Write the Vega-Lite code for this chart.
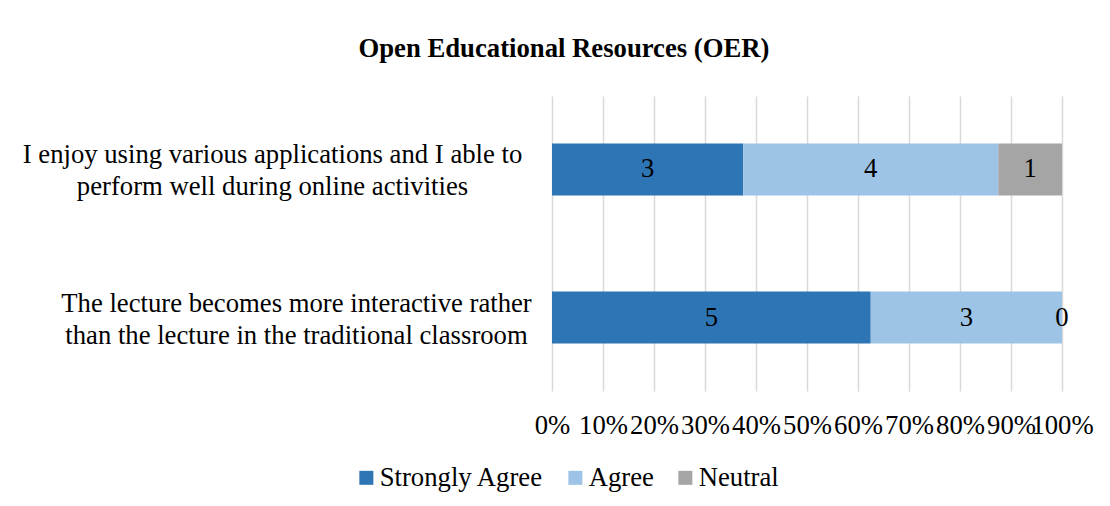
{
  "$schema": "https://vega.github.io/schema/vega-lite/v6.json",
  "width": 510,
  "height": 295,
  "autosize": {"type": "none"},
  "padding": {"left": 552, "top": 96, "right": 48, "bottom": 115},
  "background": "white",
  "config": {"view": {"stroke": null}},
  "title": {
    "text": "Open Educational Resources (OER)",
    "font": "Liberation Serif",
    "fontSize": 26.7,
    "fontWeight": "bold",
    "color": "black",
    "anchor": "middle",
    "baseline": "alphabetic",
    "dx": -243,
    "offset": 12
  },
  "data": {
    "values": [
      {"question": "I enjoy using various applications and I able to|perform well during online activities", "response": "Strongly Agree", "rank": 1, "count": 3},
      {"question": "I enjoy using various applications and I able to|perform well during online activities", "response": "Agree", "rank": 2, "count": 4},
      {"question": "I enjoy using various applications and I able to|perform well during online activities", "response": "Neutral", "rank": 3, "count": 1},
      {"question": "The lecture becomes more interactive rather|than the lecture in the traditional classroom", "response": "Strongly Agree", "rank": 1, "count": 5},
      {"question": "The lecture becomes more interactive rather|than the lecture in the traditional classroom", "response": "Agree", "rank": 2, "count": 3},
      {"question": "The lecture becomes more interactive rather|than the lecture in the traditional classroom", "response": "Neutral", "rank": 3, "count": 0}
    ]
  },
  "encoding": {
    "y": {
      "field": "question",
      "type": "nominal",
      "sort": null,
      "scale": {"paddingInner": 0.649, "paddingOuter": 0.321},
      "axis": {
        "title": null,
        "labelExpr": "split(datum.value, '|')",
        "labelFont": "Liberation Serif",
        "labelFontSize": 26.7,
        "labelColor": "black",
        "labelAlign": "center",
        "labelBaseline": "middle",
        "labelLineHeight": 32,
        "labelOffset": -14,
        "labelPadding": {"condition": {"test": "indexof(datum.value, 'enjoy') >= 0", "value": 280}, "value": 256},
        "labelLimit": 0,
        "ticks": false,
        "domain": false,
        "grid": false
      }
    },
    "x": {
      "field": "count",
      "type": "quantitative",
      "stack": "normalize",
      "scale": {"domain": [0, 1]},
      "axis": {
        "title": null,
        "format": ".0%",
        "values": [0, 0.1, 0.2, 0.3, 0.4, 0.5, 0.6, 0.7, 0.8, 0.9, 1],
        "labelFont": "Liberation Serif",
        "labelFontSize": 26.7,
        "labelColor": "black",
        "labelFlush": false,
        "labelOverlap": false,
        "labelPadding": 21,
        "labelBaseline": "top",
        "ticks": false,
        "domain": false,
        "grid": true,
        "gridColor": "#D9D9D9",
        "gridWidth": 1.5
      }
    },
    "order": {"field": "rank", "type": "quantitative"}
  },
  "layer": [
    {
      "mark": {"type": "bar"},
      "encoding": {
        "color": {
          "field": "response",
          "type": "nominal",
          "scale": {"domain": ["Strongly Agree", "Agree", "Neutral"], "range": ["#2E75B6", "#9DC3E6", "#A5A5A5"]},
          "legend": {
            "title": null,
            "orient": "none",
            "legendX": -199,
            "legendY": 368,
            "direction": "horizontal",
            "symbolType": "square",
            "symbolSize": 196,
            "symbolStrokeWidth": 0,
            "labelFont": "Liberation Serif",
            "labelFontSize": 26.7,
            "labelColor": "black",
            "labelOffset": 0,
            "columnPadding": 18,
            "labelLimit": 0
          }
        }
      }
    },
    {
      "mark": {"type": "text", "font": "Liberation Serif", "fontSize": 26.7, "color": "black", "baseline": "middle"},
      "encoding": {
        "x": {"field": "count", "type": "quantitative", "stack": "normalize", "bandPosition": 0.5},
        "detail": {"field": "response", "type": "nominal"},
        "text": {"field": "count", "type": "quantitative"}
      }
    }
  ]
}
